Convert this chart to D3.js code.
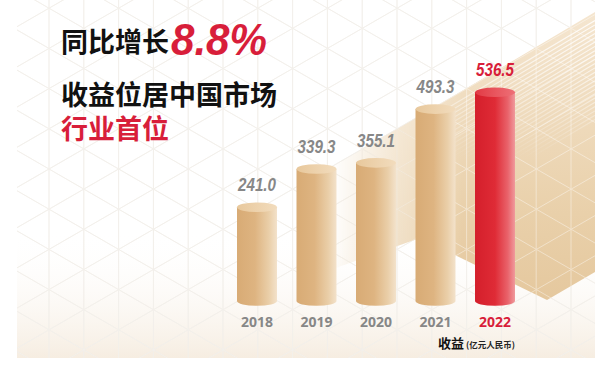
<!DOCTYPE html>
<html><head><meta charset="utf-8">
<script src="https://cdn.jsdelivr.net/npm/d3@7/dist/d3.min.js"></script>
<style>
html,body{margin:0;padding:0;background:#fff;}
svg{display:block;}
</style></head>
<body>
<svg id="chart" width="595" height="378"></svg>
<script>
// ---- data ----
const years = ["2018", "2019", "2020", "2021", "2022"];
const revenue = [241.0, 339.3, 355.1, 493.3, 536.5];
const valueLabels = ["241.0", "339.3", "355.1", "493.3", "536.5"];
const highlightYear = "2022";
const titleLine1 = ["同比增长", "8.8%"];
const titleLine2 = "收益位居中国市场";
const titleLine3 = "行业首位";
const unitLabel = ["收益", "(亿元人民币)"];

const W = 595, H = 378;
const RED = "#d81e3a", GRAY = "#878787";
const svg = d3.select("#chart");
const defs = svg.append("defs");

function lin(id, stops, x1=0,y1=0,x2=1,y2=0, units){
  const g = defs.append("linearGradient").attr("id", id)
    .attr("x1",x1).attr("y1",y1).attr("x2",x2).attr("y2",y2);
  if (units) g.attr("gradientUnits", units);
  stops.forEach(s => g.append("stop").attr("offset", s[0]).attr("stop-color", s[1]).attr("stop-opacity", s[2]===undefined?1:s[2]));
}
lin("tanBody", [[0,"#d8ab75"],[0.45,"#deb481"],[0.8,"#eacfa9"],[1,"#f3e2cb"]]);
lin("tanTop", [[0,"#e8c89c"],[1,"#f2dcbd"]]);
lin("redBody", [[0,"#d41f2b"],[0.5,"#df2b36"],[0.82,"#e9636b"],[1,"#f09a9d"]]);
lin("redTop", [[0,"#e23a44"],[1,"#ee7077"]]);
lin("blockFill", [[0,"#f5e6d0"],[0.35,"#efdbbd"],[0.7,"#e9d0aa"],[1,"#e5c89e"]], 0,12,0,300,"userSpaceOnUse");
lin("blockMaskGrad", [[0,"#fff",0.0],[0.35,"#fff",0.6],[0.7,"#fff",1],[1,"#fff",1]], 330,0,520,0,"userSpaceOnUse");
lin("stripeMaskGrad", [[0,"#fff",1],[0.6,"#fff",0.5],[1,"#fff",0]], 0,10,0,160,"userSpaceOnUse");
lin("floorGlow", [[0,"#ffffff",0],[1,"#f6ede1",1]], 0,0,0,1);

// background
svg.append("rect").attr("width", W).attr("height", H).attr("fill", "#fff");
svg.append("rect").attr("x",17).attr("y",230).attr("width",W-17).attr("height",128).attr("fill","url(#floorGlow)");

// isometric grid
defs.append("clipPath").attr("id","gridClip").append("rect")
  .attr("x",17).attr("y",0).attr("width",W-17).attr("height",358);
const grid = svg.append("g").attr("clip-path","url(#gridClip)")
  .attr("stroke","#ebe6de").attr("stroke-width",1).attr("fill","none");
const gx0 = 49, gdx = 34.8, gy0 = 169, gdy = 40.2, t30 = Math.tan(Math.PI/6);
for (let gxv = gx0; gxv < W; gxv += gdx) grid.append("line").attr("x1",gxv).attr("x2",gxv).attr("y1",0).attr("y2",358);
for (let k = -30; k <= 30; k++) {
  [1,-1].forEach(s => {
    const xa = 17, xb = W;
    grid.append("line").attr("x1",xa).attr("x2",xb)
      .attr("y1", gy0 + k*gdy + s*(xa-gx0)*t30)
      .attr("y2", gy0 + k*gdy + s*(xb-gx0)*t30);
  });
}

// decorative block
const blockPts = [[330,168],[440,104],[595,12],[595,272],[547,300],[420,238],[330,270]];
defs.append("mask").attr("id","blockMask").append("rect").attr("x",0).attr("y",0).attr("width",W).attr("height",H).attr("fill","url(#blockMaskGrad)");
defs.append("clipPath").attr("id","blockClip").append("path").attr("d", d3.line()(blockPts)+"Z");
const blk = svg.append("g").attr("mask","url(#blockMask)");
blk.append("path").attr("d", d3.line()(blockPts)+"Z").attr("fill","url(#blockFill)");
defs.append("mask").attr("id","stripeMask").append("rect").attr("x",0).attr("y",0).attr("width",W).attr("height",H).attr("fill","url(#stripeMaskGrad)");
const stripes = blk.append("g").attr("clip-path","url(#blockClip)").append("g").attr("mask","url(#stripeMask)")
  .attr("stroke","#ffffff").attr("stroke-width",1.2).attr("opacity",0.9);
for (let i = 2; i < 26; i++) {
  const off = i*4.3;
  stripes.append("line")
    .attr("x1", 440).attr("y1", 104+off)
    .attr("x2", 595).attr("y2", 12+off);
}
const grid2 = svg.append("g").attr("opacity",0.4);
grid2.node().appendChild(grid.node().cloneNode(true));
d3.select(grid2.node().firstChild).attr("stroke","#ffffff");

// scales
const x = d3.scaleBand().domain(years).range([237, 515]).paddingInner(0.328).paddingOuter(0);
const y = d3.scaleLinear().domain([0, 600]).range([301, 67.6]);
const ry = 4.8;

const data = years.map((yr,i)=>({year:yr, value:revenue[i], label:valueLabels[i]}));
const bars = svg.append("g").selectAll("g").data(data).join("g");
bars.append("path")
  .attr("d", d => {
    const x0 = x(d.year), x1 = x0 + x.bandwidth(), rx = x.bandwidth()/2;
    return `M${x0},${y(d.value)} L${x0},${y(0)} A${rx},${ry} 0 0 0 ${x1},${y(0)} L${x1},${y(d.value)} Z`;
  })
  .attr("fill", d => d.year===highlightYear ? "url(#redBody)" : "url(#tanBody)");
bars.append("ellipse")
  .attr("cx", d => x(d.year)+x.bandwidth()/2).attr("cy", d => y(d.value))
  .attr("rx", x.bandwidth()/2).attr("ry", ry)
  .attr("fill", d => d.year===highlightYear ? "url(#redTop)" : "url(#tanTop)");

bars.append("text")
  .attr("x", d => x(d.year)+x.bandwidth()/2).attr("y", d => y(d.value)-16)
  .attr("text-anchor","middle")
  .attr("font-family","'Liberation Sans', Arial, sans-serif")
  .attr("font-weight","bold").attr("font-style","italic").attr("font-size",18)
  .attr("textLength",38).attr("lengthAdjust","spacingAndGlyphs")
  .attr("fill", d => d.year===highlightYear ? RED : GRAY)
  .text(d => d.label);

const xAxis = d3.axisBottom(x).tickSize(0).tickPadding(0);
const ax = svg.append("g").attr("transform","translate(0,317)").call(xAxis);
ax.select(".domain").remove();
ax.selectAll("text")
  .attr("font-family","'Open Sans','Liberation Sans',sans-serif").attr("font-weight","bold").attr("font-size",14)
  .attr("dy","0.71em")
  .attr("fill", d => d===highlightYear ? RED : GRAY);

const unit = svg.append("text").attr("x",438).attr("y",348)
  .attr("font-family","'Noto Sans CJK SC',sans-serif");
unit.append("tspan").attr("font-weight","bold").attr("font-size",13).attr("fill","#111").text(unitLabel[0]);
unit.append("tspan").attr("dx",2).attr("font-size",8.5).attr("fill","#222").attr("font-weight","bold").text(unitLabel[1]);

const cjk = "'Noto Sans CJK SC', sans-serif";
svg.append("text").attr("x",61).attr("y",52).attr("font-family",cjk).attr("font-weight","bold").attr("font-size",27).attr("fill","#111").text(titleLine1[0]);
svg.append("text").attr("x",171).attr("y",55)
  .attr("font-family","'Liberation Sans', Arial, sans-serif").attr("font-weight","bold").attr("font-style","italic")
  .attr("font-size",44).attr("textLength",96).attr("lengthAdjust","spacingAndGlyphs")
  .attr("fill",RED).text(titleLine1[1]);
svg.append("text").attr("x",61).attr("y",105).attr("font-family",cjk).attr("font-weight","bold").attr("font-size",27).attr("fill","#111").text(titleLine2);
svg.append("text").attr("x",61).attr("y",139).attr("font-family",cjk).attr("font-weight","bold").attr("font-size",27).attr("fill",RED).text(titleLine3);
</script>
</body></html>
